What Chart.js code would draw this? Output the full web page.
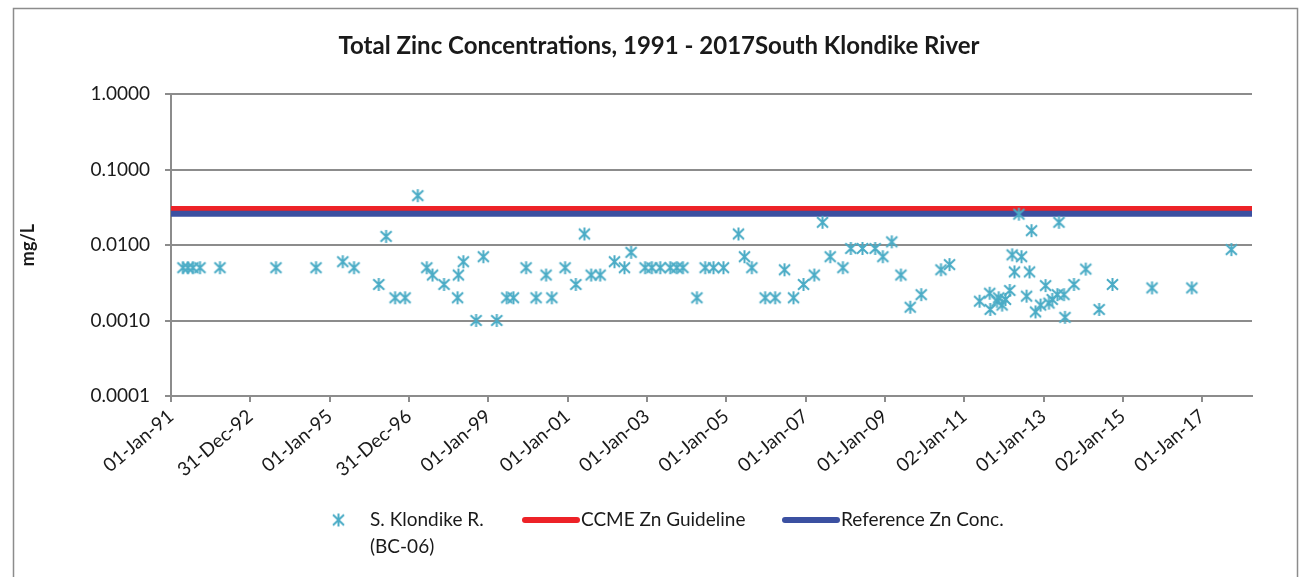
<!DOCTYPE html>
<html>
<head>
<meta charset="utf-8">
<script src="https://cdn.jsdelivr.net/npm/chart.js@4.4.1/dist/chart.umd.min.js"></script>
<style>
  html, body { margin: 0; padding: 0; background: #fff; }
  #wrap { width: 1302px; height: 577px; }
</style>
</head>
<body>
<div id="wrap"><canvas id="zinc"></canvas></div>
<script>
// sampling dates and total zinc (mg/L)
const sampleDates = [
  '1991-04-21','1991-06-06','1991-07-22','1991-09-25','1992-03-27','1993-08-25','1994-08-29','1995-05-02',
  '1995-08-14','1996-03-29','1996-06-04','1996-08-26','1996-11-26','1997-03-23','1997-06-14','1997-08-06',
  '1997-11-20','1998-04-01','1998-03-25','1998-05-17','1998-09-11','1998-11-17','1999-03-21','1999-06-21',
  '1999-08-21','1999-12-16','2000-03-17','2000-06-17','2000-08-09','2000-12-09','2001-03-18','2001-06-05',
  '2001-08-06','2001-10-28','2002-03-09','2002-06-09','2002-08-09','2002-12-16','2003-02-16','2003-05-04',
  '2003-08-04','2003-10-04','2003-11-29','2004-04-06','2004-06-21','2004-09-06','2004-12-07','2005-04-24',
  '2005-06-18','2005-08-25','2005-12-26','2006-03-28','2006-06-22','2006-09-13','2006-12-14','2007-03-23',
  '2007-06-07','2007-08-17','2007-12-12','2008-02-23','2008-06-09','2008-10-04','2008-12-14','2009-03-06',
  '2009-05-29','2009-08-23','2009-12-02','2010-06-02','2010-08-20','2011-05-24','2011-08-25','2011-08-30',
  '2011-10-31','2011-11-16','2011-12-17','2012-01-17','2012-02-26','2012-03-19','2012-04-09','2012-05-20',
  '2012-06-13','2012-07-30','2012-08-26','2012-09-13','2012-10-20','2012-12-06','2013-01-21','2013-02-21',
  '2013-03-23','2013-05-09','2013-05-24','2013-07-09','2013-07-18','2013-10-09','2014-01-26','2014-05-29',
  '2014-09-29','2015-09-28','2016-09-29','2017-09-28'
];
const zincValues = [
  0.005, 0.005, 0.005, 0.005, 0.005, 0.005, 0.005, 0.006,
  0.005, 0.003, 0.013, 0.002, 0.002, 0.045, 0.005, 0.004,
  0.003, 0.004, 0.002, 0.006, 0.001, 0.007, 0.001, 0.002,
  0.002, 0.005, 0.002, 0.004, 0.002, 0.005, 0.003, 0.014,
  0.004, 0.004, 0.006, 0.005, 0.008, 0.005, 0.005, 0.005,
  0.005, 0.005, 0.005, 0.002, 0.005, 0.005, 0.005, 0.014,
  0.007, 0.005, 0.002, 0.002, 0.0047, 0.002, 0.003, 0.004,
  0.020, 0.007, 0.005, 0.009, 0.009, 0.009, 0.007, 0.011,
  0.004, 0.0015, 0.0022, 0.0047, 0.0055, 0.0018, 0.0023, 0.0014,
  0.0018, 0.0020, 0.0016, 0.0019, 0.0025, 0.0074, 0.0044, 0.0256,
  0.0070, 0.0021, 0.0044, 0.0155, 0.0013, 0.0016, 0.0029, 0.0017,
  0.0019, 0.0022, 0.0200, 0.0022, 0.0011, 0.0030, 0.0048, 0.0014,
  0.0030, 0.0027, 0.0027, 0.0087
];
const ccmeGuideline = 0.03;
const referenceConc = 0.026;

const yTicks = [0.0001, 0.001, 0.01, 0.1, 1];
const xTickLabels = ['01-Jan-91','31-Dec-92','01-Jan-95','31-Dec-96','01-Jan-99','01-Jan-01','01-Jan-03',
  '01-Jan-05','01-Jan-07','01-Jan-09','02-Jan-11','01-Jan-13','02-Jan-15','01-Jan-17'];

const DAY = 86400000;
const axisStart = Date.UTC(1991, 0, 1);
const axisEnd = Date.UTC(2018, 3, 6);
const tickStepDays = 730.6;

const FONT = 'Lato';
const TXT = '#1a1a1a';
const GRID = '#8c8c8c';

const toTime = d => Date.parse(d + 'T00:00:00Z');

// excel style asterisk marker
function makeStar(size, color) {
  const c = document.createElement('canvas');
  c.width = c.height = size;
  const g = c.getContext('2d');
  const m = size / 2, r = size / 2 - 1;
  g.strokeStyle = color;
  g.lineWidth = 2;
  g.beginPath();
  g.moveTo(m, m - r); g.lineTo(m, m + r);
  g.moveTo(m - r * 0.85, m - r * 0.8); g.lineTo(m + r * 0.85, m + r * 0.8);
  g.moveTo(m + r * 0.85, m - r * 0.8); g.lineTo(m - r * 0.85, m + r * 0.8);
  g.stroke();
  return c;
}
const star = makeStar(15, '#4bacc6');

const decor = {
  id: 'decor',
  beforeDraw(chart) {
    const c = chart.ctx;
    c.save();
    c.fillStyle = '#fff';
    c.fillRect(0, 0, chart.width, chart.height);
    c.strokeStyle = GRID;
    c.lineWidth = 1.5;
    c.strokeRect(13.5, 8.5, 1284, 620);
    c.restore();
  },
  afterDraw(chart) {
    const c = chart.ctx;
    c.save();
    c.fillStyle = TXT;
    c.textAlign = 'center';
    c.textBaseline = 'middle';
    c.font = 'bold 24px ' + FONT;
    c.fillText('Total Zinc Concentrations, 1991 - 2017South Klondike River', 659, 46);

    // legend
    const slots = [311, 522, 782];
    const ly = 520;
    c.font = '19px ' + FONT;
    c.textAlign = 'left';
    chart.data.datasets.forEach((ds, i) => {
      const x0 = slots[i];
      if (ds.pointStyle instanceof HTMLCanvasElement) {
        c.drawImage(ds.pointStyle, x0 + 27.5 - 7.5, ly - 7.5);
      } else {
        c.strokeStyle = ds.borderColor;
        c.lineWidth = 6;
        c.lineCap = 'round';
        c.beginPath();
        c.moveTo(x0 + 3, ly); c.lineTo(x0 + 55, ly);
        c.stroke();
      }
      const lines = [].concat(ds.label);
      lines.forEach((t, k) => c.fillText(t, x0 + 59, ly + k * 27));
    });
    c.restore();
  }
};

const lineEnds = v => [{x: axisStart, y: v}, {x: axisEnd, y: v}];

new Chart(document.getElementById('zinc'), {
  type: 'scatter',
  data: {
    datasets: [
      {
        label: ['S. Klondike R.', '(BC-06)'],
        data: sampleDates.map((d, i) => ({x: toTime(d), y: zincValues[i]})),
        pointStyle: star,
        order: 0
      },
      {
        label: 'CCME Zn Guideline',
        data: lineEnds(ccmeGuideline),
        showLine: true,
        borderColor: '#ed2227',
        borderWidth: 6,
        pointRadius: 0,
        order: 2
      },
      {
        label: 'Reference Zn Conc.',
        data: lineEnds(referenceConc),
        showLine: true,
        borderColor: '#3b50a1',
        borderWidth: 6,
        pointRadius: 0,
        order: 1
      }
    ]
  },
  options: {
    responsive: true,
    maintainAspectRatio: false,
    animation: false,
    layout: { padding: {top: 94, right: 50, left: 0, bottom: 0} },
    plugins: {
      legend: { display: false },
      title: { display: false },
      tooltip: { enabled: false }
    },
    scales: {
      x: {
        type: 'linear',
        min: axisStart,
        max: axisEnd,
        afterBuildTicks: s => {
          s.ticks = xTickLabels.map((_, i) => ({value: axisStart + i * tickStepDays * DAY}));
        },
        afterFit: s => { s.height = 181; },
        ticks: {
          autoSkip: false,
          minRotation: 40,
          maxRotation: 40,
          padding: 3,
          color: TXT,
          font: {family: FONT, size: 19},
          callback: (v, i) => xTickLabels[i]
        },
        grid: { drawOnChartArea: false, color: GRID, lineWidth: 2, tickLength: 6 },
        border: { color: GRID, width: 2 }
      },
      y: {
        type: 'logarithmic',
        min: 0.0001,
        max: 1,
        afterBuildTicks: s => {
          s.ticks = yTicks.map(v => ({value: v}));
        },
        afterFit: s => { s.width = 171; },
        ticks: {
          padding: 15,
          color: TXT,
          font: {family: FONT, size: 19},
          callback: v => Number(v).toFixed(4)
        },
        grid: { color: GRID, lineWidth: 2, tickLength: 6 },
        border: { color: GRID, width: 2 },
        title: {
          display: true,
          text: 'mg/L',
          color: TXT,
          font: {family: FONT, size: 18, weight: 'bold'},
          padding: {top: 17, bottom: 0}
        }
      }
    }
  },
  plugins: [decor]
});
</script>
</body>
</html>
